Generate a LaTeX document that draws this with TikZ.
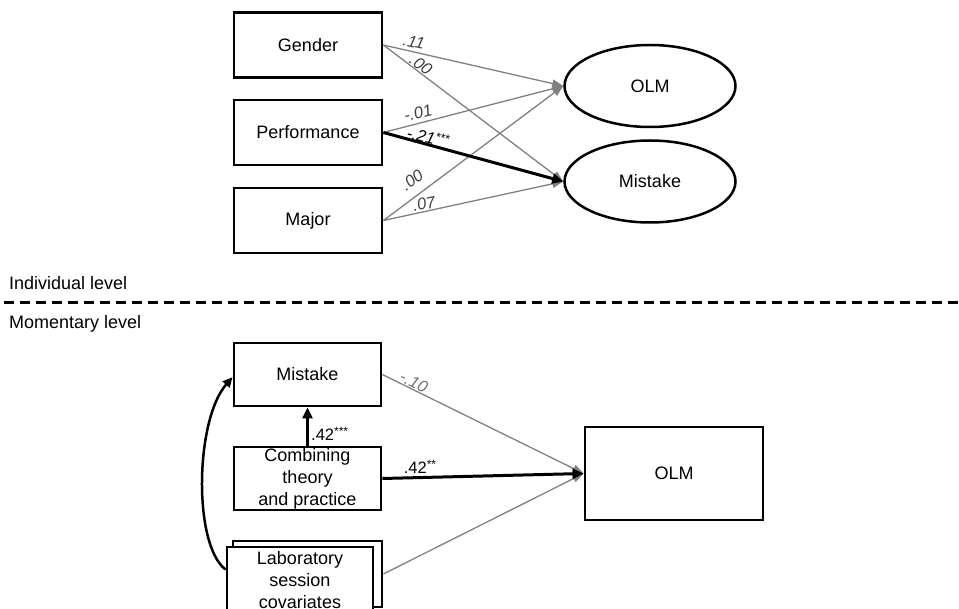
\documentclass[tikz,border=0pt]{standalone}
\usepackage{fontspec}
\setmainfont{Liberation Sans}
\usetikzlibrary{arrows.meta,shapes.geometric}
\newcommand{\stars}[1]{\raisebox{4.5pt}{\fontsize{12}{12}\selectfont #1}}
\begin{document}
\begin{tikzpicture}[x=1pt,y=-1pt,
  box/.style={draw,line width=2.8pt,minimum width=148pt,minimum height=65pt,inner sep=0pt,
    font=\fontsize{18}{22}\selectfont,align=center,fill=white},
  ell/.style={draw,ellipse,line width=2.5pt,minimum width=171pt,minimum height=82pt,inner sep=0pt,
    font=\fontsize{18}{22}\selectfont,fill=white},
  garr/.style={draw=black!50,line width=1.3pt,-{Triangle[length=11pt,width=8pt]}},
  karr/.style={draw=black,line width=3pt,-{Triangle[length=11pt,width=10pt]}},
  coef/.style={font=\fontsize{16.5}{18}\selectfont\itshape,text=black!75,inner sep=0pt},
  coefu/.style={font=\fontsize{16.5}{18}\selectfont,inner sep=0pt},
  lvl/.style={font=\fontsize{18}{22}\selectfont,anchor=west,inner sep=0pt}
]
\useasboundingbox (0,0) rectangle (959,609);

% upper (individual level)
\node[box] (g) at (308,45) {Gender};
\node[box] (p) at (308,132.5) {Performance};
\node[box] (mj) at (308,220.5) {Major};
\node[ell] (olm1) at (650,86) {OLM};
\node[ell] (mis1) at (650,181.5) {Mistake};

\draw[garr] (g.east) -- (olm1.west);
\draw[garr] (g.east) -- (mis1.west);
\draw[garr] (p.east) -- (olm1.west);
\draw[garr] (mj.east) -- (olm1.west);
\draw[garr] (mj.east) -- (mis1.west);
\draw[karr] (p.east) -- (mis1.west);

\node[coef,rotate=-12] (c1) at (414,42) {.11};
\node[coef,rotate=-36] (c2) at (421,65) {.00};
\node[coef,rotate=14] (c3) at (418,113) {-.01};
\node[coef,rotate=-14,text=black] (c4) at (428,137) {-.21\stars{***}};
\node[coef,rotate=36] (c5) at (412,180) {.00};
\node[coef,rotate=12] (c6) at (424,204) {.07};

% level separator
\node[lvl] (ind) at (9,283) {Individual level};
\node[lvl] (mom) at (9,324) {Momentary level};
\coordinate (dl) at (4,303);
\coordinate (dr) at (959,303);
\draw[line width=3pt,dash pattern=on 10pt off 6pt] (dl) -- (dr);

% lower (momentary level)
\node[box,minimum width=147pt,minimum height=63pt] (mis2) at (307.5,374.5) {Mistake};
\node[box,minimum width=147pt,minimum height=63pt] (comb) at (307.5,478.5) {Combining\\theory\\and practice};
\node[box,minimum width=149pt,minimum height=66pt] (labback) at (307.5,574) {};
\node[box,minimum width=146pt,minimum height=66pt] (lab) at (300,580) {Laboratory\\session\\covariates};
\node[box,minimum width=178pt,minimum height=93pt] (olm2) at (674,473.5) {OLM};

\draw[garr] (mis2.east) -- (olm2.west);
\draw[garr] (labback.east) -- (olm2.west);
\draw[karr] (comb.east) -- (olm2.west);
\draw[karr] (comb.north) -- (mis2.south);
\draw[line width=2.5pt,-{Triangle[length=10pt,width=9pt]}] (lab.172) .. controls (193,545) and (195,420) .. (mis2.182);

\node[coef,rotate=-26,text=black!55] (c7) at (414,382) {-.10};
\node[coefu] (c8) at (420,467) {.42\stars{**}};
\node[coefu,anchor=west] (c9) at (311,434) {.42\stars{***}};
\end{tikzpicture}
\end{document}
